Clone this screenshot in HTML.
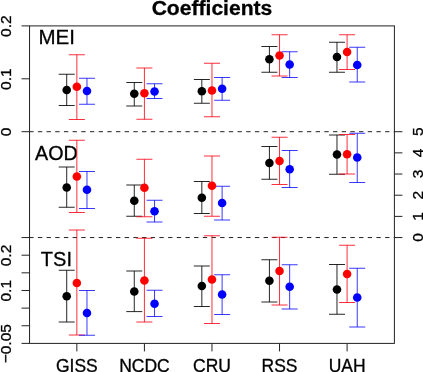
<!DOCTYPE html>
<html><head><meta charset="utf-8"><style>
html,body{margin:0;padding:0;background:#fff;overflow:hidden;width:423px;height:372px;}
svg{display:block;font-family:"Liberation Sans", sans-serif;will-change:transform;filter:blur(0.3px);}
text{stroke:#000;stroke-width:0.3px;}
</style></head><body>
<svg width="423" height="372" viewBox="0 0 423 372">
<text x="212" y="15.3" font-size="21.1" font-weight="bold" text-anchor="middle">Coefficients</text>
<rect x="29.55" y="25.9" width="364.84999999999997" height="317.5" fill="none" stroke="#222" stroke-width="1"/>
<line x1="29.55" y1="131.7" x2="394.4" y2="131.7" stroke="#222" stroke-width="1" stroke-dasharray="4.34,4.34" stroke-dashoffset="0.33"/>
<line x1="29.55" y1="237.55" x2="394.4" y2="237.55" stroke="#222" stroke-width="1" stroke-dasharray="4.34,4.34" stroke-dashoffset="0.33"/>
<line x1="21.55" y1="25.9" x2="29.55" y2="25.9" stroke="#222"/>
<line x1="21.55" y1="78.8" x2="29.55" y2="78.8" stroke="#222"/>
<line x1="21.55" y1="131.7" x2="29.55" y2="131.7" stroke="#222"/>
<line x1="21.55" y1="237.55" x2="29.55" y2="237.55" stroke="#222"/>
<line x1="21.55" y1="255.19" x2="29.55" y2="255.19" stroke="#222"/>
<line x1="21.55" y1="272.83000000000004" x2="29.55" y2="272.83000000000004" stroke="#222"/>
<line x1="21.55" y1="290.47" x2="29.55" y2="290.47" stroke="#222"/>
<line x1="21.55" y1="308.11" x2="29.55" y2="308.11" stroke="#222"/>
<line x1="21.55" y1="325.75" x2="29.55" y2="325.75" stroke="#222"/>
<line x1="21.55" y1="343.39" x2="29.55" y2="343.39" stroke="#222"/>
<line x1="394.4" y1="237.55" x2="402.4" y2="237.55" stroke="#222"/>
<text transform="translate(422.5,237.55) rotate(-90)" font-size="15.5" text-anchor="middle">0</text>
<line x1="394.4" y1="216.38" x2="402.4" y2="216.38" stroke="#222"/>
<text transform="translate(422.5,216.38) rotate(-90)" font-size="15.5" text-anchor="middle">1</text>
<line x1="394.4" y1="195.21" x2="402.4" y2="195.21" stroke="#222"/>
<text transform="translate(422.5,195.21) rotate(-90)" font-size="15.5" text-anchor="middle">2</text>
<line x1="394.4" y1="174.04000000000002" x2="402.4" y2="174.04000000000002" stroke="#222"/>
<text transform="translate(422.5,174.04000000000002) rotate(-90)" font-size="15.5" text-anchor="middle">3</text>
<line x1="394.4" y1="152.87" x2="402.4" y2="152.87" stroke="#222"/>
<text transform="translate(422.5,152.87) rotate(-90)" font-size="15.5" text-anchor="middle">4</text>
<line x1="394.4" y1="131.7" x2="402.4" y2="131.7" stroke="#222"/>
<text transform="translate(422.5,131.7) rotate(-90)" font-size="15.5" text-anchor="middle">5</text>
<line x1="76.84537037037036" y1="343.4" x2="76.84537037037036" y2="351.4" stroke="#222"/>
<text x="76.84537037037036" y="371.9" font-size="17.5" text-anchor="middle">GISS</text>
<line x1="144.41018518518516" y1="343.4" x2="144.41018518518516" y2="351.4" stroke="#222"/>
<text x="144.41018518518516" y="371.9" font-size="17.5" text-anchor="middle">NCDC</text>
<line x1="211.975" y1="343.4" x2="211.975" y2="351.4" stroke="#222"/>
<text x="211.975" y="371.9" font-size="17.5" text-anchor="middle">CRU</text>
<line x1="279.5398148148148" y1="343.4" x2="279.5398148148148" y2="351.4" stroke="#222"/>
<text x="279.5398148148148" y="371.9" font-size="17.5" text-anchor="middle">RSS</text>
<line x1="347.1046296296296" y1="343.4" x2="347.1046296296296" y2="351.4" stroke="#222"/>
<text x="347.1046296296296" y="371.9" font-size="17.5" text-anchor="middle">UAH</text>
<text transform="translate(10.8,26.20) rotate(-90)" font-size="15.5" text-anchor="middle">0.2</text>
<text transform="translate(10.8,79.10) rotate(-90)" font-size="15.5" text-anchor="middle">0.1</text>
<text transform="translate(10.8,132.00) rotate(-90)" font-size="15.5" text-anchor="middle">0</text>
<text transform="translate(10.8,255.49) rotate(-90)" font-size="15.5" text-anchor="middle">0.2</text>
<text transform="translate(10.8,290.77) rotate(-90)" font-size="15.5" text-anchor="middle">0.1</text>
<text transform="translate(10.8,343.70) rotate(-90)" font-size="15.5" text-anchor="middle">−0.05</text>
<text x="56.75" y="43.6" font-size="20.5" text-anchor="middle">MEI</text>
<text x="56.4" y="160" font-size="19.7" text-anchor="middle">AOD</text>
<text x="56.4" y="265.7" font-size="20" text-anchor="middle">TSI</text>
<path d="M66.71 74.25 V105.5 M58.71 74.25 H74.71 M58.71 105.5 H74.71" stroke="rgba(0,0,0,0.85)" fill="none" stroke-width="1"/>
<path d="M76.85 54.75 V119.5 M68.85 54.75 H84.85 M68.85 119.5 H84.85" stroke="rgba(255,0,20,0.82)" fill="none" stroke-width="1"/>
<path d="M86.98 78.25 V104.25 M78.98 78.25 H94.98 M78.98 104.25 H94.98" stroke="rgba(0,0,255,0.78)" fill="none" stroke-width="1"/>
<path d="M134.28 82.5 V106 M126.28 82.5 H142.28 M126.28 106 H142.28" stroke="rgba(0,0,0,0.85)" fill="none" stroke-width="1"/>
<path d="M144.41 68 V119.25 M136.41 68 H152.41 M136.41 119.25 H152.41" stroke="rgba(255,0,20,0.82)" fill="none" stroke-width="1"/>
<path d="M154.54 83.75 V98.5 M146.54 83.75 H162.54 M146.54 98.5 H162.54" stroke="rgba(0,0,255,0.78)" fill="none" stroke-width="1"/>
<path d="M201.84 79.5 V103.25 M193.84 79.5 H209.84 M193.84 103.25 H209.84" stroke="rgba(0,0,0,0.85)" fill="none" stroke-width="1"/>
<path d="M211.97 63.25 V116.75 M203.97 63.25 H219.97 M203.97 116.75 H219.97" stroke="rgba(255,0,20,0.82)" fill="none" stroke-width="1"/>
<path d="M222.11 77.5 V100.25 M214.11 77.5 H230.11 M214.11 100.25 H230.11" stroke="rgba(0,0,255,0.78)" fill="none" stroke-width="1"/>
<path d="M269.41 46.5 V72.25 M261.41 46.5 H277.41 M261.41 72.25 H277.41" stroke="rgba(0,0,0,0.85)" fill="none" stroke-width="1"/>
<path d="M279.54 34.75 V76 M271.54 34.75 H287.54 M271.54 76 H287.54" stroke="rgba(255,0,20,0.82)" fill="none" stroke-width="1"/>
<path d="M289.67 51.75 V77.5 M281.67 51.75 H297.67 M281.67 77.5 H297.67" stroke="rgba(0,0,255,0.78)" fill="none" stroke-width="1"/>
<path d="M336.97 42.25 V72.25 M328.97 42.25 H344.97 M328.97 72.25 H344.97" stroke="rgba(0,0,0,0.85)" fill="none" stroke-width="1"/>
<path d="M347.10 34.75 V69.5 M339.10 34.75 H355.10 M339.10 69.5 H355.10" stroke="rgba(255,0,20,0.82)" fill="none" stroke-width="1"/>
<path d="M357.24 47.25 V82 M349.24 47.25 H365.24 M349.24 82 H365.24" stroke="rgba(0,0,255,0.78)" fill="none" stroke-width="1"/>
<path d="M66.71 167 V207.25 M58.71 167 H74.71 M58.71 207.25 H74.71" stroke="rgba(0,0,0,0.85)" fill="none" stroke-width="1"/>
<path d="M76.85 140.25 V212.5 M68.85 140.25 H84.85 M68.85 212.5 H84.85" stroke="rgba(255,0,20,0.82)" fill="none" stroke-width="1"/>
<path d="M86.98 171.5 V208.5 M78.98 171.5 H94.98 M78.98 208.5 H94.98" stroke="rgba(0,0,255,0.78)" fill="none" stroke-width="1"/>
<path d="M134.28 185 V216.25 M126.28 185 H142.28 M126.28 216.25 H142.28" stroke="rgba(0,0,0,0.85)" fill="none" stroke-width="1"/>
<path d="M144.41 159.25 V216.75 M136.41 159.25 H152.41 M136.41 216.75 H152.41" stroke="rgba(255,0,20,0.82)" fill="none" stroke-width="1"/>
<path d="M154.54 200.25 V222 M146.54 200.25 H162.54 M146.54 222 H162.54" stroke="rgba(0,0,255,0.78)" fill="none" stroke-width="1"/>
<path d="M201.84 181.5 V213.5 M193.84 181.5 H209.84 M193.84 213.5 H209.84" stroke="rgba(0,0,0,0.85)" fill="none" stroke-width="1"/>
<path d="M211.97 156 V216.25 M203.97 156 H219.97 M203.97 216.25 H219.97" stroke="rgba(255,0,20,0.82)" fill="none" stroke-width="1"/>
<path d="M222.11 186.25 V220 M214.11 186.25 H230.11 M214.11 220 H230.11" stroke="rgba(0,0,255,0.78)" fill="none" stroke-width="1"/>
<path d="M269.41 146.5 V179.25 M261.41 146.5 H277.41 M261.41 179.25 H277.41" stroke="rgba(0,0,0,0.85)" fill="none" stroke-width="1"/>
<path d="M279.54 137.25 V184.5 M271.54 137.25 H287.54 M271.54 184.5 H287.54" stroke="rgba(255,0,20,0.82)" fill="none" stroke-width="1"/>
<path d="M289.67 150.5 V187.5 M281.67 150.5 H297.67 M281.67 187.5 H297.67" stroke="rgba(0,0,255,0.78)" fill="none" stroke-width="1"/>
<path d="M336.97 135 V174.25 M328.97 135 H344.97 M328.97 174.25 H344.97" stroke="rgba(0,0,0,0.85)" fill="none" stroke-width="1"/>
<path d="M347.10 134.5 V174 M339.10 134.5 H355.10 M339.10 174 H355.10" stroke="rgba(255,0,20,0.82)" fill="none" stroke-width="1"/>
<path d="M357.24 133.25 V182.5 M349.24 133.25 H365.24 M349.24 182.5 H365.24" stroke="rgba(0,0,255,0.78)" fill="none" stroke-width="1"/>
<path d="M66.71 270.25 V322 M58.71 270.25 H74.71 M58.71 322 H74.71" stroke="rgba(0,0,0,0.85)" fill="none" stroke-width="1"/>
<path d="M76.85 230 V335 M68.85 230 H84.85 M68.85 335 H84.85" stroke="rgba(255,0,20,0.82)" fill="none" stroke-width="1"/>
<path d="M86.98 290.5 V335.25 M78.98 290.5 H94.98 M78.98 335.25 H94.98" stroke="rgba(0,0,255,0.78)" fill="none" stroke-width="1"/>
<path d="M134.28 271 V311.6 M126.28 271 H142.28 M126.28 311.6 H142.28" stroke="rgba(0,0,0,0.85)" fill="none" stroke-width="1"/>
<path d="M144.41 238.25 V322 M136.41 238.25 H152.41 M136.41 322 H152.41" stroke="rgba(255,0,20,0.82)" fill="none" stroke-width="1"/>
<path d="M154.54 290.25 V316.5 M146.54 290.25 H162.54 M146.54 316.5 H162.54" stroke="rgba(0,0,255,0.78)" fill="none" stroke-width="1"/>
<path d="M201.84 266 V306.5 M193.84 266 H209.84 M193.84 306.5 H209.84" stroke="rgba(0,0,0,0.85)" fill="none" stroke-width="1"/>
<path d="M211.97 235.75 V323.5 M203.97 235.75 H219.97 M203.97 323.5 H219.97" stroke="rgba(255,0,20,0.82)" fill="none" stroke-width="1"/>
<path d="M222.11 274.75 V314.5 M214.11 274.75 H230.11 M214.11 314.5 H230.11" stroke="rgba(0,0,255,0.78)" fill="none" stroke-width="1"/>
<path d="M269.41 259.75 V302 M261.41 259.75 H277.41 M261.41 302 H277.41" stroke="rgba(0,0,0,0.85)" fill="none" stroke-width="1"/>
<path d="M279.54 237.25 V305 M271.54 237.25 H287.54 M271.54 305 H287.54" stroke="rgba(255,0,20,0.82)" fill="none" stroke-width="1"/>
<path d="M289.67 264.75 V309 M281.67 264.75 H297.67 M281.67 309 H297.67" stroke="rgba(0,0,255,0.78)" fill="none" stroke-width="1"/>
<path d="M336.97 264.5 V314.25 M328.97 264.5 H344.97 M328.97 314.25 H344.97" stroke="rgba(0,0,0,0.85)" fill="none" stroke-width="1"/>
<path d="M347.10 245.25 V302.5 M339.10 245.25 H355.10 M339.10 302.5 H355.10" stroke="rgba(255,0,20,0.82)" fill="none" stroke-width="1"/>
<path d="M357.24 268.25 V327 M349.24 268.25 H365.24 M349.24 327 H365.24" stroke="rgba(0,0,255,0.78)" fill="none" stroke-width="1"/>
<circle cx="66.71" cy="90" r="4.3" fill="#000"/>
<circle cx="76.85" cy="86.75" r="4.3" fill="#f00"/>
<circle cx="86.98" cy="91" r="4.3" fill="#00f"/>
<circle cx="134.28" cy="93.75" r="4.3" fill="#000"/>
<circle cx="144.41" cy="93.25" r="4.3" fill="#f00"/>
<circle cx="154.54" cy="91.5" r="4.3" fill="#00f"/>
<circle cx="201.84" cy="91.25" r="4.3" fill="#000"/>
<circle cx="211.97" cy="90.5" r="4.3" fill="#f00"/>
<circle cx="222.11" cy="88.75" r="4.3" fill="#00f"/>
<circle cx="269.41" cy="59.25" r="4.3" fill="#000"/>
<circle cx="279.54" cy="55.5" r="4.3" fill="#f00"/>
<circle cx="289.67" cy="64.5" r="4.3" fill="#00f"/>
<circle cx="336.97" cy="57" r="4.3" fill="#000"/>
<circle cx="347.10" cy="52" r="4.3" fill="#f00"/>
<circle cx="357.24" cy="65" r="4.3" fill="#00f"/>
<circle cx="66.71" cy="187.5" r="4.3" fill="#000"/>
<circle cx="76.85" cy="176.5" r="4.3" fill="#f00"/>
<circle cx="86.98" cy="189.75" r="4.3" fill="#00f"/>
<circle cx="134.28" cy="200.75" r="4.3" fill="#000"/>
<circle cx="144.41" cy="187.75" r="4.3" fill="#f00"/>
<circle cx="154.54" cy="211.25" r="4.3" fill="#00f"/>
<circle cx="201.84" cy="197.75" r="4.3" fill="#000"/>
<circle cx="211.97" cy="185.75" r="4.3" fill="#f00"/>
<circle cx="222.11" cy="203" r="4.3" fill="#00f"/>
<circle cx="269.41" cy="163" r="4.3" fill="#000"/>
<circle cx="279.54" cy="161" r="4.3" fill="#f00"/>
<circle cx="289.67" cy="169.25" r="4.3" fill="#00f"/>
<circle cx="336.97" cy="154.5" r="4.3" fill="#000"/>
<circle cx="347.10" cy="154.25" r="4.3" fill="#f00"/>
<circle cx="357.24" cy="157.5" r="4.3" fill="#00f"/>
<circle cx="66.71" cy="296.25" r="4.3" fill="#000"/>
<circle cx="76.85" cy="283" r="4.3" fill="#f00"/>
<circle cx="86.98" cy="313" r="4.3" fill="#00f"/>
<circle cx="134.28" cy="291.5" r="4.3" fill="#000"/>
<circle cx="144.41" cy="280.5" r="4.3" fill="#f00"/>
<circle cx="154.54" cy="303.75" r="4.3" fill="#00f"/>
<circle cx="201.84" cy="286" r="4.3" fill="#000"/>
<circle cx="211.97" cy="279.5" r="4.3" fill="#f00"/>
<circle cx="222.11" cy="294.5" r="4.3" fill="#00f"/>
<circle cx="269.41" cy="280.75" r="4.3" fill="#000"/>
<circle cx="279.54" cy="271" r="4.3" fill="#f00"/>
<circle cx="289.67" cy="286.75" r="4.3" fill="#00f"/>
<circle cx="336.97" cy="289.5" r="4.3" fill="#000"/>
<circle cx="347.10" cy="274" r="4.3" fill="#f00"/>
<circle cx="357.24" cy="297.5" r="4.3" fill="#00f"/>
</svg>
</body></html>
